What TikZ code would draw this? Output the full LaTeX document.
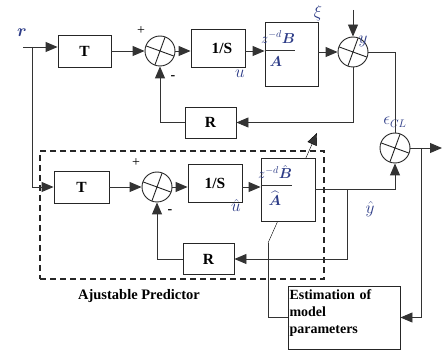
\documentclass[tikz,border=0pt]{standalone}
\usepackage{amsmath}
\usepackage{fontspec}
\setmainfont{Liberation Serif}
\usetikzlibrary{arrows.meta,backgrounds}
\definecolor{etiqueta}{RGB}{45,60,135}
\tikzset{
  bloque/.style={draw=black!85, rectangle, fill=white, inner sep=0pt,
    font=\fontsize{15.5}{17}\selectfont\bfseries},
  sumador/.style={draw=black!85, circle, fill=white, minimum size=30pt, inner sep=0pt,
    path picture={\draw (path picture bounding box.160) -- (path picture bounding box.-20)
                        (path picture bounding box.70) -- (path picture bounding box.250);}},
  senal/.style={text=etiqueta, inner sep=0pt, font=\fontsize{16}{18}\selectfont},
  fraccion/.style={text=etiqueta, inner sep=0pt, font=\fontsize{14.5}{16}\selectfont},
  signo/.style={inner sep=0pt, font=\fontsize{14}{16}\selectfont},
}
\begin{document}
\begin{tikzpicture}[x=1pt, y=-1pt, >={Triangle[length=12pt,width=10pt]}, line width=0.9pt, draw=black!80]
\useasboundingbox (0,0) rectangle (448,350);
% Nodos
% lazo superior
\node [bloque, minimum width=53pt, minimum height=32pt] (T1) at (84.5,51) {T};
\node [sumador] (S1) at (160,51) {};
\node [bloque, minimum width=54pt, minimum height=38pt] (I1) at (218,48) {\hspace*{8pt}1/S};
\node [bloque, minimum width=53pt, minimum height=64pt] (P1) at (291.5,54) {};
\node [sumador] (S2) at (353,52) {};
\node [bloque, minimum width=51pt, minimum height=31pt] (R1) at (210.5,122.5) {R};
\node [sumador] (S3) at (395,148) {};
% predictor ajustable
\node [draw=black!85, dash pattern=on 6pt off 4pt, line width=1.2pt,
       minimum width=284pt, minimum height=128pt] (AP) at (182,215) {};
\node [bloque, minimum width=55pt, minimum height=32pt] (T2) at (81.5,187) {T};
\node [sumador] (S4) at (157,187) {};
\node [bloque, minimum width=54pt, minimum height=38pt] (I2) at (215,183) {1/S};
\node [bloque, minimum width=54pt, minimum height=63pt] (P2) at (288,189.5) {};
\node [bloque, minimum width=51pt, minimum height=31pt] (R2) at (208.5,259) {R};
\node [font=\fontsize{14.5}{16}\selectfont\bfseries, inner sep=0pt] (lAP) at (139,296) {Ajustable Predictor};
% estimador
\node [draw=black!85, minimum width=112pt, minimum height=63pt, text width=109pt, align=left,
       inner sep=1pt, font=\fontsize{14}{17}\selectfont\bfseries] (E) at (344,317.5)
       {Estimation of\\ model\\ parameters\vspace{9pt}};
% fracciones de las plantas
\draw ([yshift=4pt]P1.west) -- ++(30,0);
\node [fraccion] (n1) at (278,37) {$z^{-d}\boldsymbol{B}$};
\node [fraccion] (d1) at (276,62) {$\boldsymbol{A}$};
\draw ([yshift=4.5pt]P2.west) -- ++(31,0);
\node [fraccion] (n2) at (275,172) {$z^{-d}\hat{\boldsymbol{B}}$};
\node [fraccion] (d2) at (275,198) {$\widehat{\boldsymbol{A}}$};
% etiquetas
\node [senal] (lr) at (22,33) {$\boldsymbol{r}$};
\node [senal] (lu) at (240,74) {$u$};
\node [senal] (lxi) at (318,13) {$\xi$};
\node [senal] (ly) at (363,41) {$y$};
\node [senal] (le) at (395,122) {$\epsilon_{CL}$};
\node [senal] (luh) at (236,206) {$\hat{u}$};
\node [senal] (lyh) at (370,209) {$\hat{y}$};
\node [signo] (mas1) at (141,31) {+};
\node [signo] (menos1) at (173,78) {\textbf{-}};
\node [signo] (mas2) at (136,163) {+};
\node [signo] (menos2) at (170,212) {\textbf{-}};
% Puntos libres
\coordinate (r) at (23,47);
\coordinate (rb) at (32,47);
\coordinate (dist) at (353,10);
\coordinate (out) at (442,148);
\coordinate (eb) at (421,148);
\coordinate (yb) at (347,189.5);
\coordinate (a1) at (268,243);
\coordinate (a2) at (317,133);
% Ejes
% ---
% arriba
% ---
\draw [->] (r) -- (r -| T1.west);
\draw [->] (T1) -- (S1);
\draw [->] (S1) -- (S1 -| I1.west);
\draw [->] (I1.east |- S1) -- (S1 -| P1.west);
\draw [->] (P1.east |- S2) -- (S2.west);
\draw [->] (dist) -- (S2.north);
\draw (S2.east) -| (S3.north);
\draw [->] (S2.south) |- (R1.east);
\draw [->] (R1.west) -| (S1.south);
\draw [->] (S3.east) -- (out);
\draw [->] (eb) |- (E.east);
% ---
% abajo
% ---
\draw [->] (rb) |- (T2.west);
\draw [->] (T2.east |- S4) -- (S4.west);
\draw [->] (S4) -- (S4 -| I2.west);
\draw [->] (I2.east |- S4) -- (S4 -| P2.west);
\draw [->] (P2.east) -| (S3.south);
\draw [->] (yb) |- (R2.east);
\draw [->] (R2.west) -| (S4.south);
\draw (a1) |- (E.west);
\begin{scope}[on background layer]
\draw [->] (a1) -- (a2);
\end{scope}
\end{tikzpicture}
\end{document}
